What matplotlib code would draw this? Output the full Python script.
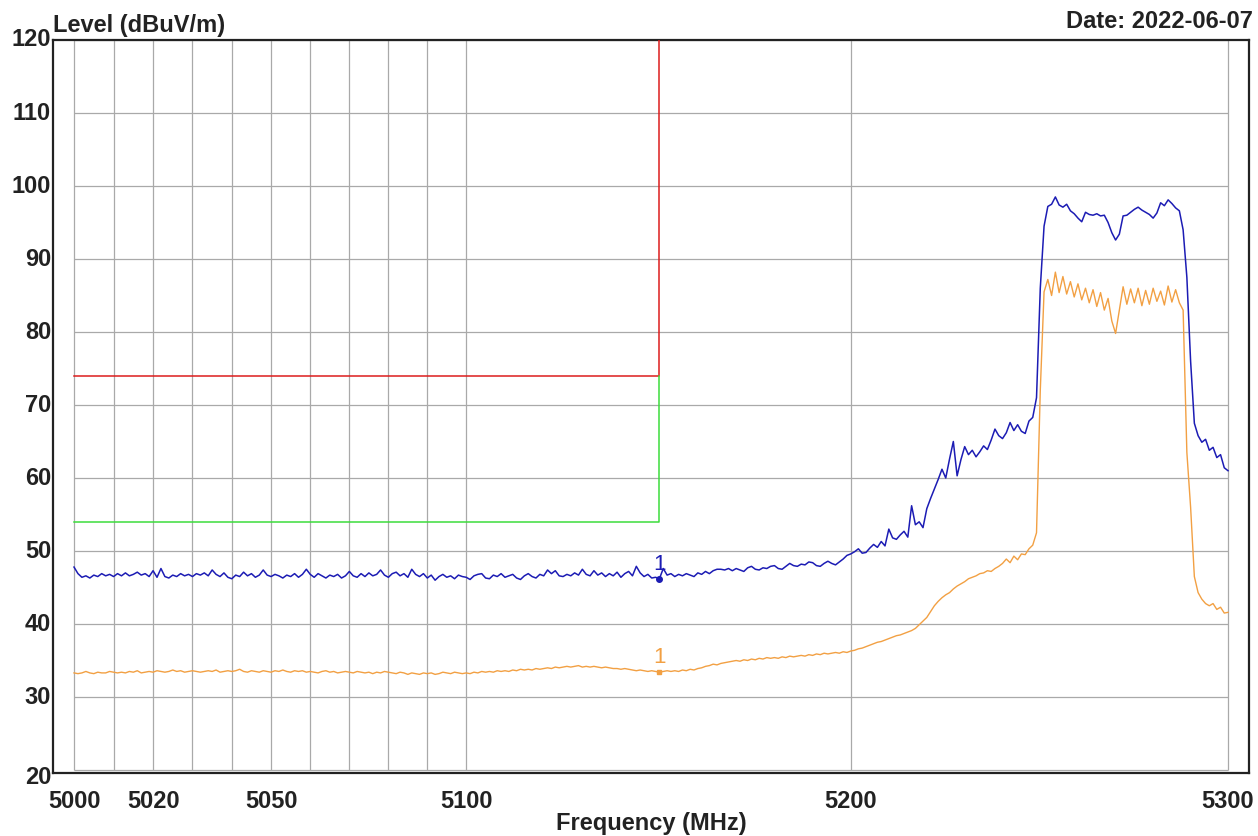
import matplotlib
matplotlib.use("Agg")
import matplotlib.pyplot as plt
from matplotlib.ticker import NullLocator, NullFormatter
from matplotlib.transforms import blended_transform_factory, offset_copy

plt.rcParams['font.family'] = ['Liberation Sans', 'DejaVu Sans']

# ---------------- data ----------------
freq_mhz = [
    5000, 5001, 5002, 5003, 5004, 5005, 5006, 5007, 5008, 5009,
    5010, 5011, 5012, 5013, 5014, 5015, 5016, 5017, 5018, 5019,
    5020, 5021, 5022, 5023, 5024, 5025, 5026, 5027, 5028, 5029,
    5030, 5031, 5032, 5033, 5034, 5035, 5036, 5037, 5038, 5039,
    5040, 5041, 5042, 5043, 5044, 5045, 5046, 5047, 5048, 5049,
    5050, 5051, 5052, 5053, 5054, 5055, 5056, 5057, 5058, 5059,
    5060, 5061, 5062, 5063, 5064, 5065, 5066, 5067, 5068, 5069,
    5070, 5071, 5072, 5073, 5074, 5075, 5076, 5077, 5078, 5079,
    5080, 5081, 5082, 5083, 5084, 5085, 5086, 5087, 5088, 5089,
    5090, 5091, 5092, 5093, 5094, 5095, 5096, 5097, 5098, 5099,
    5100, 5101, 5102, 5103, 5104, 5105, 5106, 5107, 5108, 5109,
    5110, 5111, 5112, 5113, 5114, 5115, 5116, 5117, 5118, 5119,
    5120, 5121, 5122, 5123, 5124, 5125, 5126, 5127, 5128, 5129,
    5130, 5131, 5132, 5133, 5134, 5135, 5136, 5137, 5138, 5139,
    5140, 5141, 5142, 5143, 5144, 5145, 5146, 5147, 5148, 5149,
    5150, 5151, 5152, 5153, 5154, 5155, 5156, 5157, 5158, 5159,
    5160, 5161, 5162, 5163, 5164, 5165, 5166, 5167, 5168, 5169,
    5170, 5171, 5172, 5173, 5174, 5175, 5176, 5177, 5178, 5179,
    5180, 5181, 5182, 5183, 5184, 5185, 5186, 5187, 5188, 5189,
    5190, 5191, 5192, 5193, 5194, 5195, 5196, 5197, 5198, 5199,
    5200, 5201, 5202, 5203, 5204, 5205, 5206, 5207, 5208, 5209,
    5210, 5211, 5212, 5213, 5214, 5215, 5216, 5217, 5218, 5219,
    5220, 5221, 5222, 5223, 5224, 5225, 5226, 5227, 5228, 5229,
    5230, 5231, 5232, 5233, 5234, 5235, 5236, 5237, 5238, 5239,
    5240, 5241, 5242, 5243, 5244, 5245, 5246, 5247, 5248, 5249,
    5250, 5251, 5252, 5253, 5254, 5255, 5256, 5257, 5258, 5259,
    5260, 5261, 5262, 5263, 5264, 5265, 5266, 5267, 5268, 5269,
    5270, 5271, 5272, 5273, 5274, 5275, 5276, 5277, 5278, 5279,
    5280, 5281, 5282, 5283, 5284, 5285, 5286, 5287, 5288, 5289,
    5290, 5291, 5292, 5293, 5294, 5295, 5296, 5297, 5298, 5299,
    5300,
]

peak_level = [
    47.8, 46.9, 46.4, 46.6, 46.3, 46.7, 46.5, 46.9, 46.6, 46.8,
    46.5, 46.9, 46.6, 47.0, 46.6, 46.8, 47.1, 46.7, 46.9, 46.5,
    47.3, 46.4, 47.6, 46.5, 46.3, 46.7, 46.5, 46.9, 46.6, 46.8,
    46.5, 46.9, 46.7, 47.0, 46.6, 47.4, 46.8, 46.5, 47.0, 46.4,
    46.2, 46.7, 46.5, 47.1, 46.6, 46.9, 46.4, 46.7, 47.4, 46.7,
    46.5, 46.8, 46.6, 46.3, 46.7, 46.5, 46.9, 46.4, 46.8, 47.5,
    46.8, 46.4, 46.9, 46.6, 46.3, 46.7, 46.5, 46.8, 46.3, 46.6,
    47.2, 46.6, 46.4, 46.9, 46.5, 47.0, 46.6, 46.8, 47.4, 46.7,
    46.4, 46.9, 47.1, 46.6, 46.9, 46.4, 47.5, 46.8, 46.5, 46.9,
    46.3, 46.7, 46.0, 46.5, 46.8, 46.4, 46.6, 46.2, 46.7, 46.5,
    46.4, 46.1, 46.6, 46.8, 46.9, 46.3, 46.2, 46.7, 46.5, 46.9,
    46.4, 46.6, 46.8, 46.3, 46.1, 46.6, 46.9, 46.5, 46.3, 46.8,
    46.6, 47.4, 46.9, 47.3, 46.6, 46.5, 46.8, 46.6, 47.0, 46.7,
    47.5, 46.8, 46.6, 47.3, 46.7, 47.0, 46.5, 46.9, 46.6, 47.1,
    46.4, 46.9, 47.2, 46.6, 47.9, 47.0, 46.5, 46.8, 46.3, 46.4,
    46.2, 47.6, 46.7, 46.9, 46.5, 46.8, 46.6, 46.9, 46.7, 46.5,
    47.0, 46.8, 47.2, 46.9, 47.3, 47.5, 47.5, 47.4, 47.6, 47.3,
    47.6, 47.4, 47.2, 47.7, 47.9, 47.5, 47.4, 47.7, 47.6, 47.9,
    48.0, 47.6, 47.5, 47.9, 48.3, 48.0, 47.9, 48.2, 48.1, 48.5,
    48.4, 48.0, 47.9, 48.3, 48.6, 48.3, 48.1, 48.5, 48.9, 49.4,
    49.6, 49.9, 50.3, 49.7, 49.8, 50.4, 50.9, 50.5, 51.3, 50.7,
    53.0, 51.8, 51.6, 52.2, 52.7, 51.9, 56.2, 53.6, 54.0, 53.2,
    55.8, 57.2, 58.5, 59.8, 61.2, 60.0, 62.6, 65.0, 60.3, 62.5,
    64.3, 63.2, 63.8, 62.9, 63.6, 64.4, 63.9, 65.2, 66.7, 65.8,
    65.4, 66.2, 67.6, 66.5, 67.3, 66.4, 66.1, 67.8, 68.3, 71.0,
    86.0, 94.5, 97.2, 97.5, 98.5, 97.4, 97.1, 97.5, 96.6, 96.2,
    95.6, 95.1, 96.4, 96.1, 96.0, 96.2, 95.9, 96.0, 95.0, 93.6,
    92.6, 93.4, 95.9, 96.0, 96.4, 96.8, 97.1, 96.7, 96.4, 96.1,
    95.6, 96.3, 97.7, 97.3, 98.1, 97.6, 97.0, 96.6, 94.0, 87.5,
    76.0, 67.5, 65.8, 64.9, 65.3, 63.8, 64.2, 62.8, 63.2, 61.4,
    61.0,
]

avg_level = [
    33.3, 33.2, 33.3, 33.5, 33.3, 33.2, 33.4, 33.3, 33.3, 33.5,
    33.4, 33.3, 33.4, 33.3, 33.5, 33.4, 33.6, 33.3, 33.4, 33.5,
    33.4, 33.6, 33.5, 33.4, 33.5, 33.7, 33.5, 33.6, 33.4, 33.5,
    33.6, 33.5, 33.4, 33.5, 33.6, 33.5, 33.7, 33.4, 33.5, 33.6,
    33.5, 33.6, 33.8, 33.5, 33.4, 33.6, 33.5, 33.4, 33.6, 33.5,
    33.4, 33.6, 33.5, 33.7, 33.5, 33.4, 33.6, 33.5, 33.6, 33.4,
    33.5, 33.4, 33.3, 33.5, 33.6, 33.4, 33.5, 33.3, 33.4, 33.5,
    33.4, 33.3, 33.5, 33.4, 33.3, 33.4, 33.2, 33.4, 33.3, 33.5,
    33.4, 33.3, 33.2, 33.4, 33.3, 33.1, 33.3, 33.2, 33.1, 33.3,
    33.2, 33.3, 33.1, 33.2, 33.4, 33.3, 33.2, 33.4, 33.3, 33.2,
    33.3, 33.2, 33.4, 33.3, 33.5, 33.4, 33.5, 33.4, 33.6, 33.5,
    33.6, 33.5, 33.7, 33.6, 33.8, 33.7, 33.8, 33.7, 33.9, 33.8,
    33.9, 34.0, 33.9, 34.1, 34.0, 34.1, 34.2, 34.1, 34.2, 34.3,
    34.1, 34.2, 34.1, 34.2, 34.1, 34.0, 34.1, 34.0, 33.9, 33.9,
    33.8, 33.9, 33.8, 33.7, 33.6, 33.7, 33.6, 33.5, 33.6, 33.5,
    33.4, 33.5, 33.6, 33.5, 33.6, 33.5, 33.7, 33.6, 33.8, 33.7,
    33.9, 34.0, 34.2, 34.3, 34.5, 34.4, 34.6, 34.7, 34.8, 34.9,
    35.0, 34.9, 35.1, 35.0, 35.2, 35.1, 35.3, 35.2, 35.4, 35.3,
    35.4, 35.3, 35.5, 35.4, 35.6, 35.5, 35.6, 35.7, 35.6, 35.8,
    35.7, 35.9, 35.8, 36.0, 35.9, 36.0, 36.1, 36.0, 36.2, 36.1,
    36.3, 36.4, 36.6, 36.7, 36.9, 37.1, 37.3, 37.5, 37.6, 37.8,
    38.0, 38.2, 38.4, 38.5, 38.7, 38.9, 39.1, 39.4, 39.9, 40.4,
    40.9, 41.7, 42.5, 43.1, 43.6, 44.0, 44.3, 44.8, 45.2, 45.5,
    45.8, 46.2, 46.4, 46.6, 46.9, 47.0, 47.3, 47.2, 47.6, 47.9,
    48.3, 48.9, 48.4, 49.3, 48.8, 49.6, 49.5, 50.3, 50.8, 52.5,
    72.0, 85.5, 87.2, 85.0, 88.2, 85.4, 87.6, 85.2, 86.9, 84.8,
    86.6, 84.4, 86.0, 84.0, 85.8, 83.5, 85.4, 83.0, 84.6, 81.5,
    79.8, 83.0, 86.2, 83.8, 85.9, 84.0, 86.0, 83.6, 85.7, 83.8,
    86.0, 84.2, 85.6, 83.7, 86.3, 84.1, 85.8, 84.0, 83.0, 63.5,
    56.0, 46.5, 44.3, 43.4, 42.8, 42.5, 42.8, 42.0, 42.3, 41.5,
    41.6,
]

# limit lines (step shapes)
peak_limit_freq = [5000, 5150, 5150]
peak_limit = [74, 74, 120]
avg_limit_freq = [5000, 5150, 5150]
avg_limit = [54, 54, 74]

# marker 1
marker_freq = 5150
marker_peak = 46.2
marker_avg = 33.4

# axes / grid
x_grid = [5000, 5010, 5020, 5030, 5040, 5050, 5060, 5070, 5080, 5090, 5100, 5200, 5300]
x_tick_labels = [5000, 5020, 5050, 5100, 5200, 5300]
y_ticks = [20, 30, 40, 50, 60, 70, 80, 90, 100, 110, 120]

# ---------------- figure ----------------
W, H = 1258, 836
fig = plt.figure(figsize=(W / 100, H / 100), dpi=100)
fig.patch.set_facecolor('white')
ax = fig.add_axes([53 / W, 1 - 773 / H, (1249 - 53) / W, (773 - 40) / H])
ax.set_xscale('log')
ax.set_xlim(4994.70, 5305.62)
ax.set_ylim(19.59, 120)
ax.xaxis.set_minor_locator(NullLocator())
ax.xaxis.set_minor_formatter(NullFormatter())

grid_c = '#a9a9a9'
ax.vlines(x_grid, 20, 120, color=grid_c, lw=0.9, zorder=1)
ax.hlines(y_ticks, 5000, 5300, color=grid_c, lw=0.9, zorder=1)

for s in ax.spines.values():
    s.set_linewidth(1.6)
    s.set_color('#222222')

# limit lines
ax.plot(peak_limit_freq, peak_limit, color='#dd1c1c', lw=1.1, zorder=3)
ax.plot(avg_limit_freq, avg_limit, color='#3cdc3c', lw=1.1, zorder=3)

# traces
blue = '#1c1cb4'
orange = '#f2a043'
ax.plot(freq_mhz, avg_level, color=orange, lw=1.0, zorder=4)
ax.plot(freq_mhz, peak_level, color=blue, lw=1.1, zorder=5)

# markers
ax.plot([marker_freq], [marker_peak], 'o', color=blue, ms=4, zorder=6)
ax.plot([marker_freq], [marker_avg], 's', color=orange, ms=3.5, zorder=6)
ax.annotate('1', (marker_freq, marker_peak), xytext=(0, 3), textcoords='offset points',
            ha='center', va='bottom', color=blue, fontsize=16)
ax.annotate('1', (marker_freq, marker_avg), xytext=(0, 3), textcoords='offset points',
            ha='center', va='bottom', color=orange, fontsize=16)

# ticks
fs = 17
ax.tick_params(length=0)
ax.set_xticks(x_tick_labels)
ax.set_xticklabels([str(v) for v in x_tick_labels], fontsize=fs, fontweight='bold',
                   color='#222222')
ax.tick_params(axis='x', pad=12)
ax.set_yticks([])
ytrans = blended_transform_factory(ax.transAxes, ax.transData)
for v in y_ticks:
    dy = -7 if v == 20 else 0
    t = offset_copy(ytrans, fig=fig, x=-2, y=dy, units='dots')
    ax.text(0, v, str(v), transform=t, ha='right', va='center', fontsize=fs,
            fontweight='bold', color='#222222')

# texts
fig.text(53 / W, 1 - 32 / H, 'Level (dBuV/m)', ha='left', va='baseline',
         fontsize=fs, fontweight='bold', color='#222222')
fig.text(1253 / W, 1 - 28 / H, 'Date: 2022-06-07', ha='right', va='baseline',
         fontsize=fs, fontweight='bold', color='#222222')
fig.text(651 / W, 1 - 830 / H, 'Frequency (MHz)', ha='center', va='baseline',
         fontsize=fs, fontweight='bold', color='#222222')

fig.savefig('out.png', dpi=100)
